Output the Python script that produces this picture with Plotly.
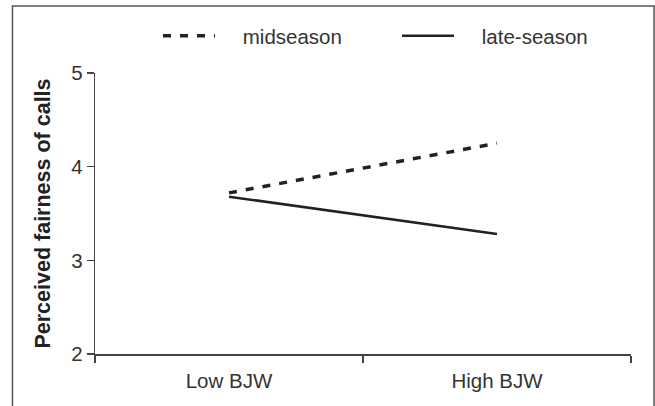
import plotly.graph_objects as go

categories = ["Low BJW", "High BJW"]
midseason = [3.72, 4.25]
late_season = [3.68, 3.28]
y_ticks = [2, 3, 4, 5]
y_title = "Perceived fairness of calls"

FONT = "Liberation Sans, Arial, sans-serif"
INK = "#222222"
PAD = "\u00a0" * 4

fig = go.Figure()
fig.add_trace(go.Scatter(
    x=categories, y=midseason, name=PAD + "midseason", mode="lines",
    line=dict(color=INK, width=3.5, dash="8px,9px"),
))
fig.add_trace(go.Scatter(
    x=categories, y=late_season, name=PAD + "late-season", mode="lines",
    line=dict(color=INK, width=2.5),
))

fig.update_layout(
    width=655, height=406,
    margin=dict(l=95, r=24, t=73, b=52, autoexpand=False),
    paper_bgcolor="white", plot_bgcolor="white",
    font=dict(family=FONT, size=20.5, color="#333333"),
    showlegend=True,
    legend=dict(
        orientation="h", x=0.1175, y=1.132, xanchor="left", yanchor="middle",
        font=dict(size=20.5, color="#333333"), itemwidth=52,
        entrywidth=172, entrywidthmode="pixels", bgcolor="rgba(0,0,0,0)",
        traceorder="normal",
    ),
    xaxis=dict(
        type="category", range=[-0.5, 1.5], tickson="boundaries",
        ticks="outside", ticklen=7, tickwidth=1.5, tickcolor="#444",
        showline=True, linecolor="#444", linewidth=1.5,
        showgrid=False, zeroline=False, fixedrange=True, automargin=False,
        tickfont=dict(size=20.5, color="#333333"), ticklabelstandoff=8,
    ),
    yaxis=dict(
        range=[2, 5], tickvals=y_ticks, ticks="outside", ticklen=7,
        tickwidth=1.2, tickcolor="#444",
        showline=True, linecolor="#444", linewidth=1.2,
        showgrid=False, zeroline=False, fixedrange=True, automargin=False,
        tickfont=dict(size=20.5, color="#333333"),
        title=dict(text="<b>" + y_title + "</b>", standoff=14,
                   font=dict(size=21.5, color="#222222")),
    ),
    shapes=[dict(
        type="rect", xref="paper", yref="paper",
        x0=-0.154, x1=1.043, y0=-0.4, y1=1.238,
        line=dict(color="#555555", width=1.5), fillcolor="rgba(0,0,0,0)",
        layer="below",
    )],
)

fig.write_html(
    "out.html",
    config={"displayModeBar": False, "staticPlot": True},
    post_script="document.body.style.margin='0';document.body.style.overflow='hidden';",
)
